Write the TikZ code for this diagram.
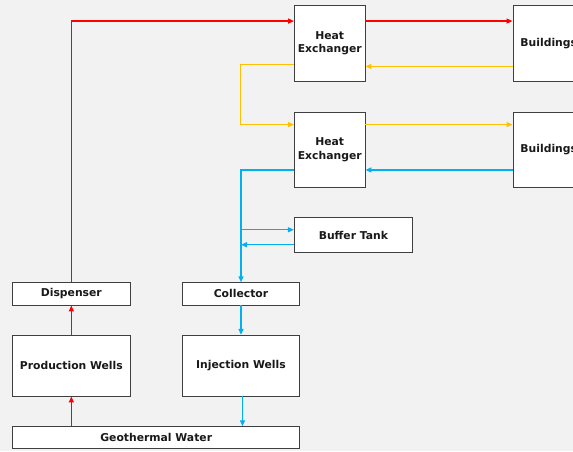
\documentclass[tikz,border=0pt]{standalone}
\usepackage{fontspec}
\setmainfont{DejaVu Sans}
\usetikzlibrary{arrows.meta,calc}
\definecolor{hotred}{HTML}{FF0000}
\definecolor{warmyellow}{HTML}{FFC000}
\definecolor{coldblue}{HTML}{00B0F0}
\definecolor{pagegray}{HTML}{F2F2F2}
\definecolor{edgegray}{HTML}{3F3F3F}
\tikzset{
  plantfig/.style={font=\bfseries\fontsize{10.8}{13.3}\selectfont},
  block/.style={
    draw=edgegray, fill=white, line width=0.9pt,
    align=center, plantfig, inner sep=0pt, text=black!90,
  },
  wire/.style={line width=1.4pt, -{Triangle[length=6pt,width=5pt]}},
  hot/.style={wire, draw=hotred},
  warm/.style={wire, draw=warmyellow},
  cold/.style={wire, draw=coldblue},
}
\begin{document}
\begin{tikzpicture}[x=1pt, y=-1pt]

  \fill[pagegray] (0,0) rectangle (573,451);
  \useasboundingbox (0,0) rectangle (573,451);

  % upper loop
  \node[block, minimum width=70.5pt, minimum height=75.5pt] (hexA) at (329.75,43.25) {Heat\\Exchanger};
  \node[block, minimum width=71.5pt, minimum height=75.5pt] (bldA) at (548.75,43.25) {Buildings};

  % lower loop
  \node[block, minimum width=70.5pt, minimum height=75.5pt] (hexB) at (329.75,149.75) {Heat\\Exchanger};
  \node[block, minimum width=71.5pt, minimum height=75.5pt] (bldB) at (548.75,149.75) {Buildings};

  \node[block, minimum width=118pt, minimum height=34.6pt] (buf) at (353.4,235) {Buffer Tank};

  % wells
  \node[block, minimum width=117.3pt, minimum height=22.3pt] (disp) at (71.35,293.85) {Dispenser};
  \node[block, minimum width=117.3pt, minimum height=22.3pt] (coll) at (241,293.85) {Collector};
  \node[block, minimum width=117.3pt, minimum height=60.7pt] (prod) at (71.35,365.65) {Production Wells};
  \node[block, minimum width=117.3pt, minimum height=60.7pt] (inj) at (241,365.65) {Injection Wells};
  \node[block, minimum width=287pt, minimum height=22pt] (geo) at (156.2,437.7) {Geothermal Water};

  % hot side
  \draw[hot] (geo.north -| prod.south) -- (prod.south);
  \draw[hot] (prod) -- (disp);
  \draw[hot] (disp.north) |- ($(hexA.north west)+(0,16)$);
  \draw[hot] ($(hexA.north east)+(0,16)$) -- ($(bldA.north west)+(0,16)$);

  % second stage
  \draw[warm] ($(bldA.south west)+(0,-15)$) -- ($(hexA.south east)+(0,-15)$);
  \draw[warm] ($(hexA.south west)+(0,-17)$) -- ++(-53.5,0) |- ($(hexB.north west)+(0,13)$);
  \draw[warm] ($(hexB.north east)+(0,13)$) -- ($(bldB.north west)+(0,13)$);

  % return side
  \draw[cold] ($(bldB.south west)+(0,-18)$) -- ($(hexB.south east)+(0,-18)$);
  \draw[cold] ($(hexB.south west)+(0,-18)$) -| (coll.north);
  \coordinate (bufIn) at ($(buf.north west)+(0,12.5)$);
  \coordinate (bufOut) at ($(buf.south west)+(0,-8)$);
  \draw[cold] (bufIn -| coll.north) -- (bufIn);
  \draw[cold] (bufOut) -- (bufOut -| coll.north);
  \draw[cold] (coll) -- (inj);
  \coordinate (injOut) at ($(inj.south)+(1.5,0)$);
  \draw[cold] (injOut) -- (injOut |- geo.north);

\end{tikzpicture}
\end{document}
